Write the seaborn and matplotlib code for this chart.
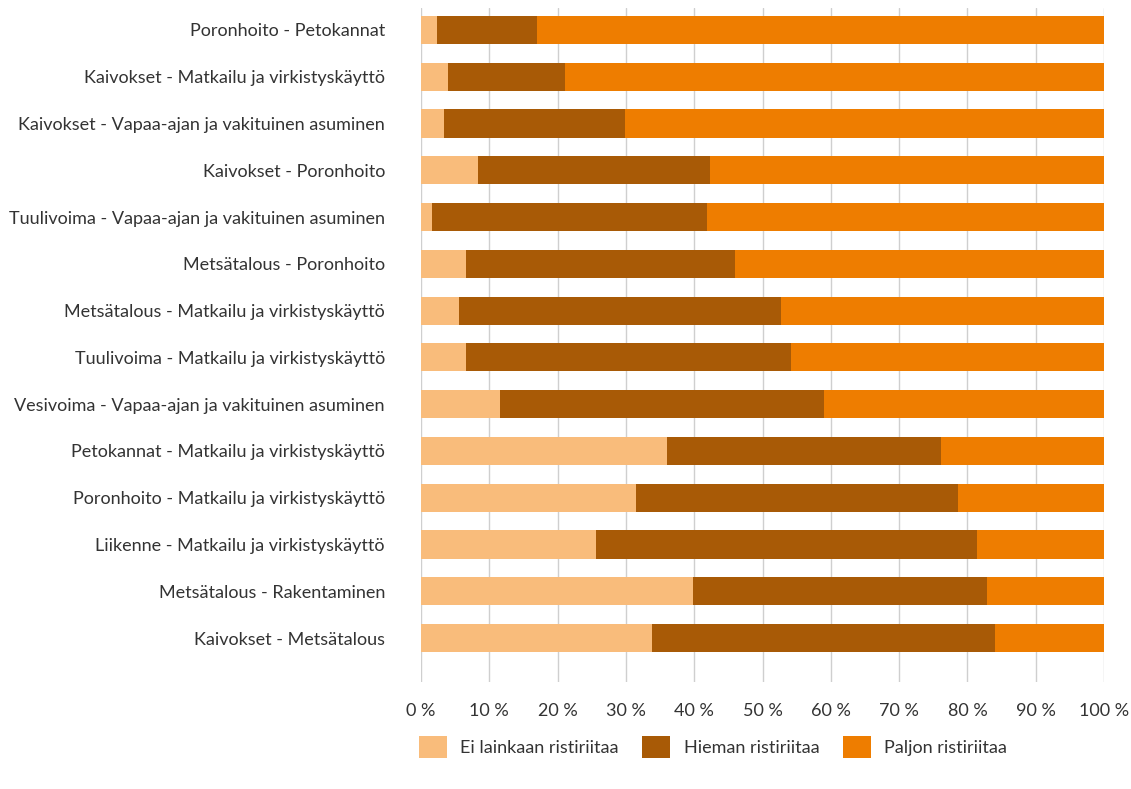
import numpy as np
import pandas as pd
import matplotlib
matplotlib.use('Agg')
import matplotlib.pyplot as plt
import seaborn as sns
from matplotlib.patches import Patch

# data (percent of respondents)
categories = [
    'Poronhoito - Petokannat',
    'Kaivokset - Matkailu ja virkistyskäyttö',
    'Kaivokset - Vapaa-ajan ja vakituinen asuminen',
    'Kaivokset - Poronhoito',
    'Tuulivoima - Vapaa-ajan ja vakituinen asuminen',
    'Metsätalous - Poronhoito',
    'Metsätalous - Matkailu ja virkistyskäyttö',
    'Tuulivoima - Matkailu ja virkistyskäyttö',
    'Vesivoima - Vapaa-ajan ja vakituinen asuminen',
    'Petokannat - Matkailu ja virkistyskäyttö',
    'Poronhoito - Matkailu ja virkistyskäyttö',
    'Liikenne - Matkailu ja virkistyskäyttö',
    'Metsätalous - Rakentaminen',
    'Kaivokset - Metsätalous',
]
ei_lainkaan = [2.3, 4.0, 3.4, 8.3, 1.6, 6.6, 5.6, 6.6, 11.6, 36.0, 31.5, 25.6, 39.8, 33.8]
hieman = [14.7, 17.1, 26.5, 34.0, 40.3, 39.4, 47.1, 47.6, 47.4, 40.1, 47.1, 55.8, 43.1, 50.2]
paljon = [83.0, 78.9, 70.1, 57.7, 58.1, 54.0, 47.3, 45.8, 41.0, 23.9, 21.4, 18.6, 17.1, 16.0]

series_names = ['Ei lainkaan ristiriitaa', 'Hieman ristiriitaa', 'Paljon ristiriitaa']
colors = ['#F9BC7B', '#A85A06', '#EE7D00']

df = pd.DataFrame({
    'category': categories,
    'ei': ei_lainkaan,
    'hieman': hieman,
    'paljon': paljon,
})
df['cum_ei'] = df['ei']
df['cum_hieman'] = df['ei'] + df['hieman']
df['cum_paljon'] = df['cum_hieman'] + df['paljon']

sns.set_style('white')
plt.rcParams['font.family'] = ['Lato', 'DejaVu Sans']
text_color = '#333333'
fs = 13

fig = plt.figure(figsize=(11.31, 7.89), dpi=100)
ax = fig.add_axes([421 / 1131, 1 - 682 / 789, 683 / 1131, 674 / 789])

# stacked bars: draw the longest cumulative first
for col, color in zip(['cum_paljon', 'cum_hieman', 'cum_ei'], colors[::-1]):
    sns.barplot(data=df, x=col, y='category', orient='h', color=color,
                width=0.6, saturation=1, linewidth=0, ax=ax, zorder=2)

ax.set_xlim(0, 100)
ax.set_ylim(13.94, -0.47)
ax.set_xticks(np.arange(0, 101, 10))
ax.set_xticklabels([f'{v} %' for v in range(0, 101, 10)])
ax.xaxis.grid(True, color='#cfcfcf', linewidth=1, zorder=0)
ax.set_axisbelow(True)
for s in ax.spines.values():
    s.set_visible(False)
ax.tick_params(axis='x', length=0, pad=15, labelsize=fs, labelcolor=text_color)
ax.tick_params(axis='y', length=0, pad=26, labelsize=fs, labelcolor=text_color)
ax.set_xlabel('')
ax.set_ylabel('')

handles = [Patch(facecolor=c, edgecolor='none') for c in colors]
fig.legend(handles, series_names, loc='center', bbox_to_anchor=(713 / 1131, 1 - 747 / 789),
           ncol=3, frameon=False, fontsize=fs, handlelength=1.55, handleheight=1.55,
           handletextpad=0.75, columnspacing=1.3, labelcolor=text_color)

fig.savefig('out.png', dpi=100)
